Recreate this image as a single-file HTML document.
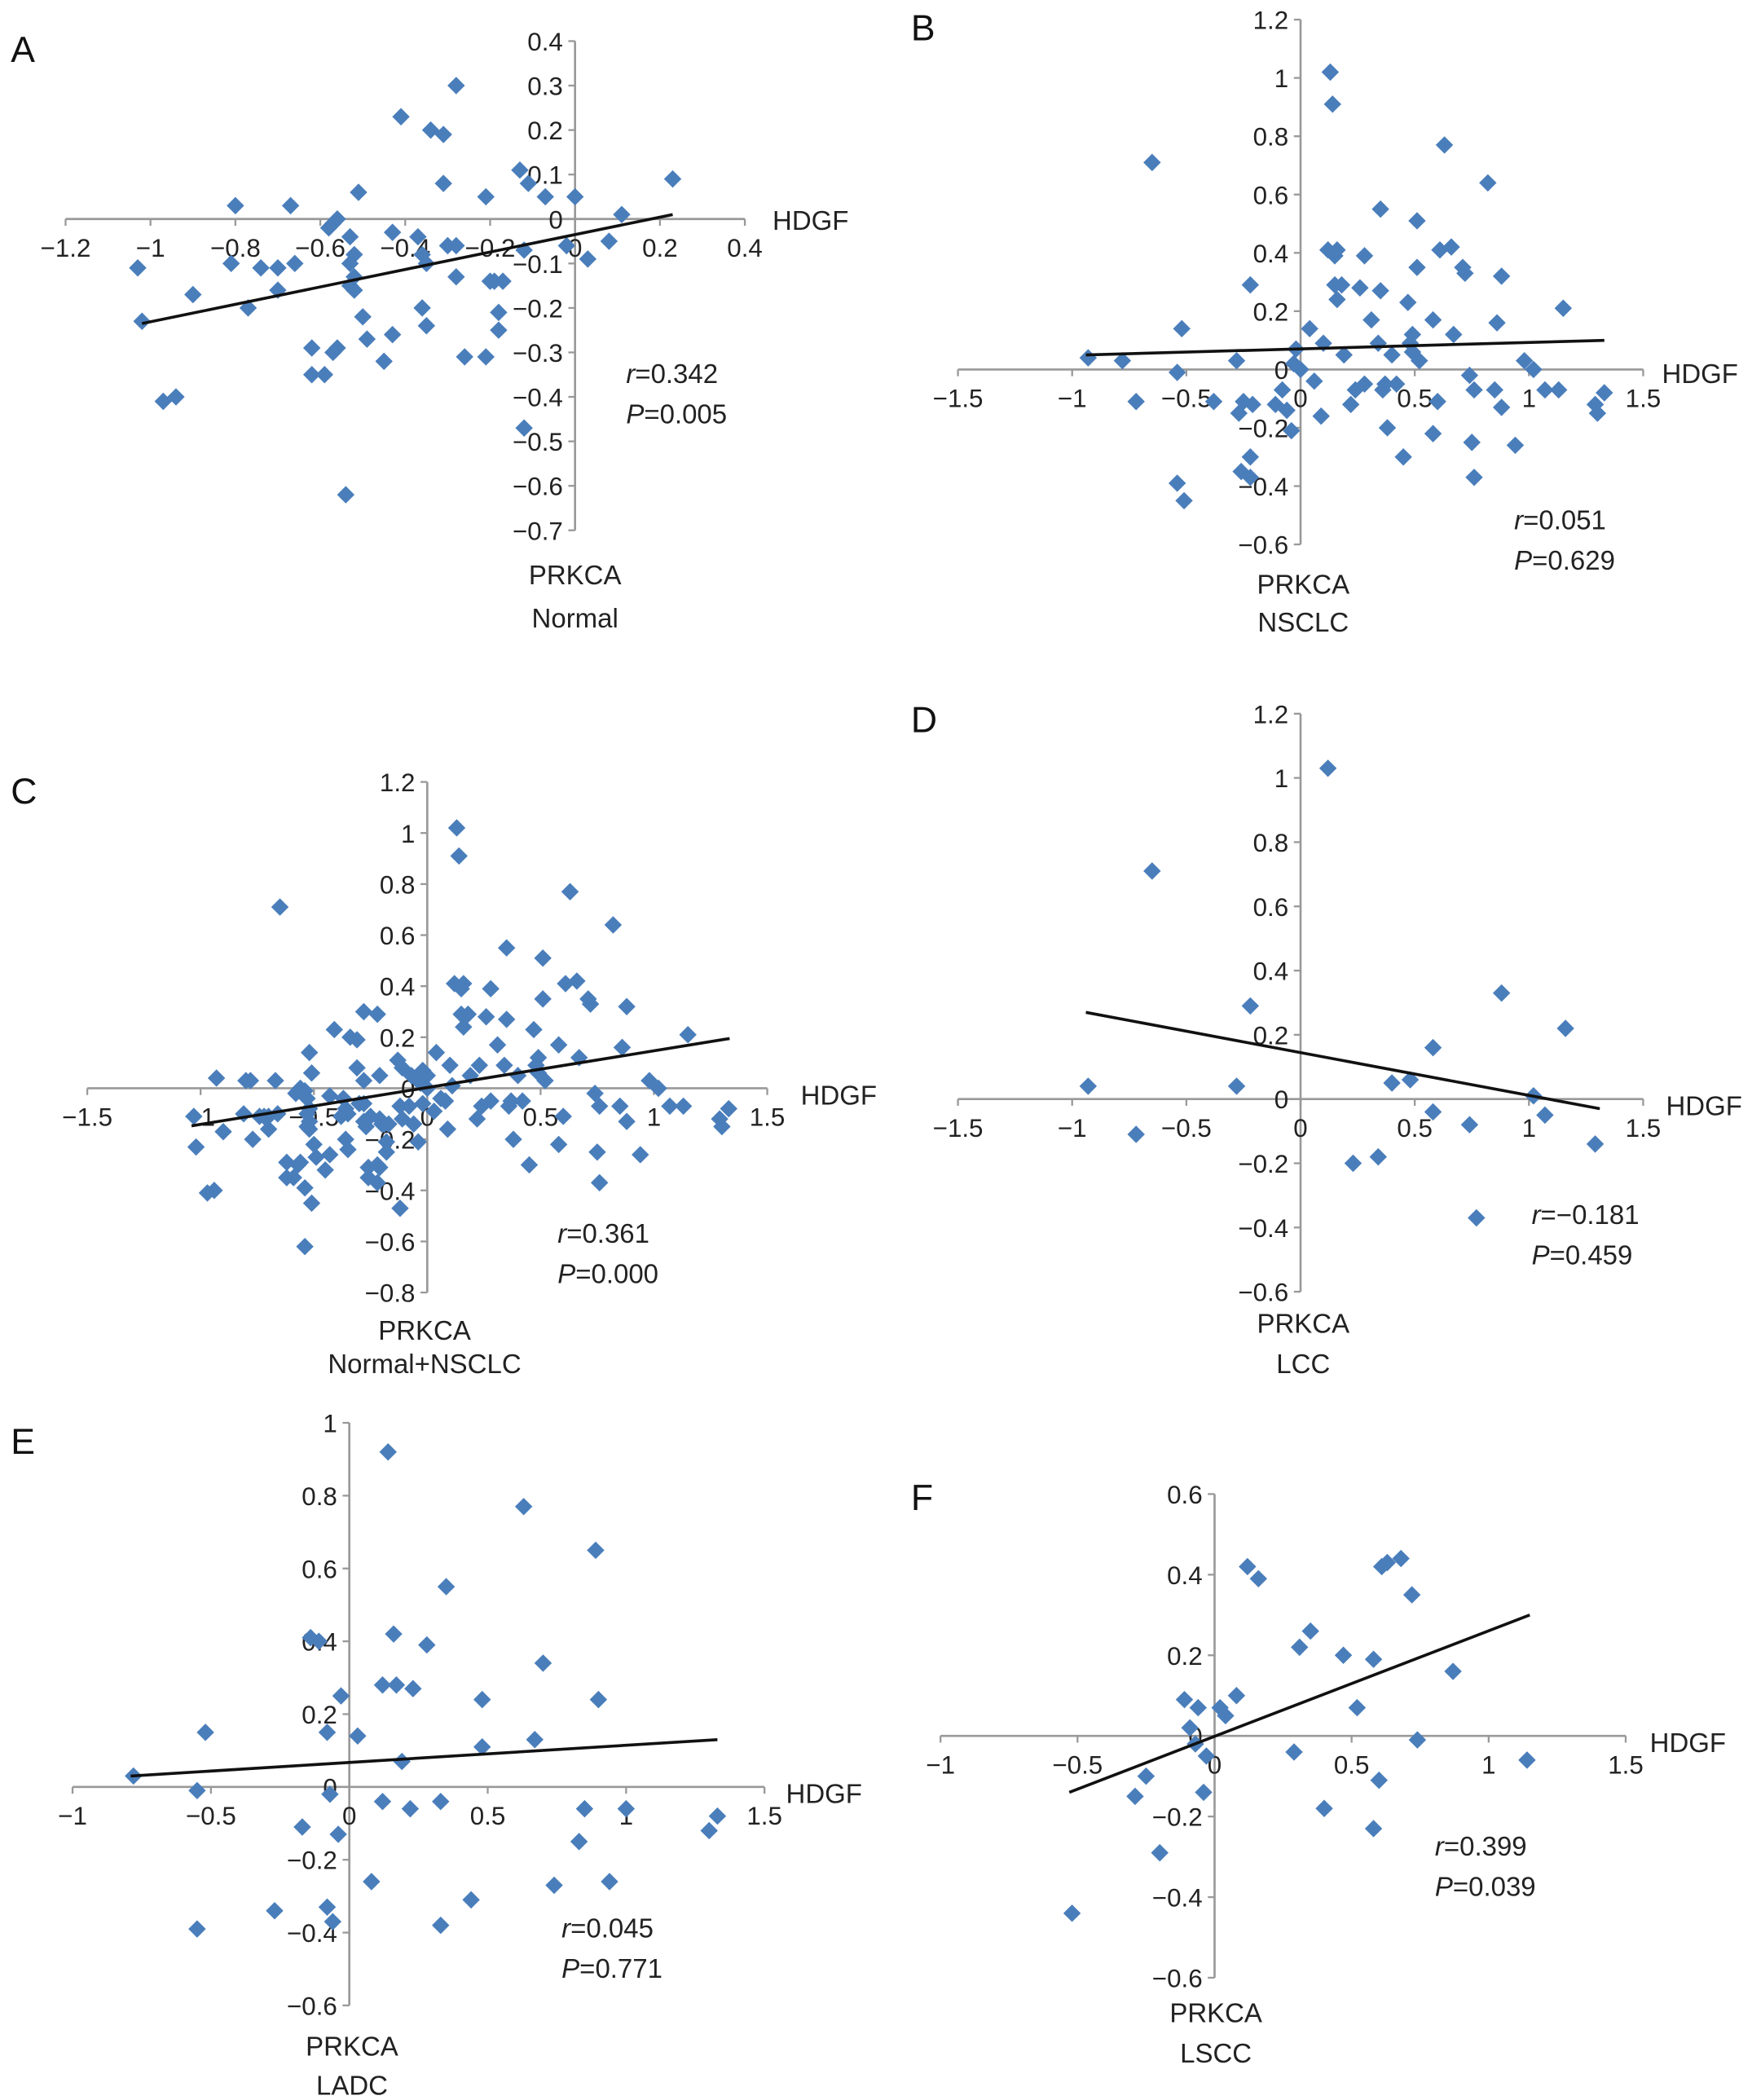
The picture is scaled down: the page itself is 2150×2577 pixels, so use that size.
<!DOCTYPE html>
<html><head><meta charset="utf-8">
<style>
html,body{margin:0;padding:0;background:#fff;}
svg{display:block;font-family:"Liberation Sans",Arial,sans-serif;}
</style></head>
<body>
<svg id="fig" width="2150" height="2577" viewBox="0 0 1304 1563" xmlns="http://www.w3.org/2000/svg"></svg>
<script>
// ---- data (x = PRKCA, y = HDGF) ----
const normalX = [-1.03,-1.02,-0.97,-0.94,-0.90,-0.80,-0.81,-0.77,-0.74,-0.70,-0.70,-0.67,-0.66,-0.62,-0.59,-0.62,-0.57,-0.56,-0.58,-0.57,-0.56,-0.53,-0.53,-0.52,-0.53,-0.52,-0.52,-0.51,-0.50,-0.49,-0.54,-0.45,-0.43,-0.43,-0.41,-0.37,-0.36,-0.35,-0.35,-0.36,-0.34,-0.31,-0.31,-0.30,-0.28,-0.28,-0.28,-0.26,-0.21,-0.21,-0.20,-0.19,-0.17,-0.18,-0.18,-0.13,-0.12,-0.11,-0.12,-0.07,-0.02,0.00,0.03,0.08,0.11,0.23];
const normalY = [-0.11,-0.23,-0.41,-0.40,-0.17,0.03,-0.10,-0.20,-0.11,-0.16,-0.11,0.03,-0.10,-0.35,-0.35,-0.29,-0.30,-0.29,-0.02,-0.01,0.00,-0.04,-0.10,-0.08,-0.15,-0.16,-0.13,0.06,-0.22,-0.27,-0.62,-0.32,-0.26,-0.03,0.23,-0.04,-0.20,-0.24,-0.10,-0.08,0.20,0.19,0.08,-0.06,0.30,-0.06,-0.13,-0.31,-0.31,0.05,-0.14,-0.14,-0.14,-0.21,-0.25,0.11,-0.47,0.08,-0.07,0.05,-0.06,0.05,-0.09,-0.05,0.01,0.09];
const nsclcX = [-0.93,-0.78,-0.72,-0.65,-0.54,-0.52,-0.54,-0.51,-0.38,-0.27,-0.22,-0.28,-0.25,-0.26,-0.22,-0.22,-0.21,-0.11,-0.08,-0.06,-0.04,-0.03,-0.02,0.00,0.04,0.06,0.09,0.10,0.12,0.13,0.14,0.15,0.16,0.15,0.16,0.18,0.19,0.22,0.24,0.26,0.28,0.28,0.31,0.34,0.35,0.35,0.36,0.37,0.38,0.40,0.42,0.45,0.47,0.48,0.49,0.51,0.51,0.49,0.52,0.58,0.58,0.60,0.61,0.63,0.66,0.67,0.71,0.72,0.74,0.75,0.76,0.76,0.82,0.85,0.86,0.88,0.88,0.94,0.98,1.02,1.07,1.13,1.15,1.29,1.30,1.33];
const nsclcY = [0.04,0.03,-0.11,0.71,-0.01,0.14,-0.39,-0.45,-0.11,-0.15,0.29,0.03,-0.11,-0.35,-0.30,-0.37,-0.12,-0.12,-0.07,-0.14,-0.21,0.02,0.07,0.00,0.14,-0.04,-0.16,0.09,0.41,1.02,0.91,0.29,0.24,0.39,0.41,0.29,0.05,-0.12,-0.07,0.28,-0.05,0.39,0.17,0.09,0.27,0.55,-0.07,-0.05,-0.20,0.05,-0.05,-0.30,0.23,0.09,0.06,0.51,0.35,0.12,0.03,-0.22,0.17,-0.11,0.41,0.77,0.42,0.12,0.35,0.33,-0.02,-0.25,-0.07,-0.37,0.64,-0.07,0.16,-0.13,0.32,-0.26,0.03,0.00,-0.07,-0.07,0.21,-0.12,-0.15,-0.08];
const lccX = [-0.93,-0.72,-0.65,-0.28,-0.22,0.12,0.23,0.34,0.40,0.48,0.58,0.58,0.74,0.77,0.88,1.02,1.07,1.16,1.29];
const lccY = [0.04,-0.11,0.71,0.04,0.29,1.03,-0.20,-0.18,0.05,0.06,0.16,-0.04,-0.08,-0.37,0.33,0.01,-0.05,0.22,-0.14];
const ladcX = [-0.78,-0.55,-0.52,-0.55,-0.27,-0.17,-0.14,-0.11,-0.08,-0.08,-0.06,-0.04,-0.03,-0.07,0.03,0.08,0.12,0.12,0.14,0.16,0.17,0.19,0.22,0.23,0.28,0.33,0.33,0.35,0.48,0.48,0.44,0.63,0.67,0.70,0.74,0.83,0.85,0.89,0.90,0.94,1.00,1.30,1.33];
const ladcY = [0.03,-0.01,0.15,-0.39,-0.34,-0.11,0.41,0.40,0.15,-0.33,-0.37,-0.13,0.25,-0.02,0.14,-0.26,-0.04,0.28,0.92,0.42,0.28,0.07,-0.06,0.27,0.39,-0.38,-0.04,0.55,0.24,0.11,-0.31,0.77,0.13,0.34,-0.27,-0.15,-0.06,0.65,0.24,-0.26,-0.06,-0.12,-0.08];
const lsccX = [-0.52,-0.29,-0.25,-0.20,-0.11,-0.09,-0.07,-0.06,-0.04,-0.03,0.02,0.04,0.08,0.12,0.16,0.29,0.31,0.35,0.40,0.47,0.52,0.58,0.58,0.60,0.61,0.63,0.68,0.72,0.74,0.87,1.14];
const lsccY = [-0.44,-0.15,-0.10,-0.29,0.09,0.02,-0.02,0.07,-0.14,-0.05,0.07,0.05,0.10,0.42,0.39,-0.04,0.22,0.26,-0.18,0.20,0.07,0.19,-0.23,-0.11,0.42,0.43,0.44,0.35,-0.01,0.16,-0.06];
// trend line endpoints [x1,y1,x2,y2]
const lineA = [-1.02,-0.235,0.23,0.01];
const lineB = [-0.94,0.05,1.33,0.10];
const lineC = [-1.04,-0.147,1.334,0.195];
const lineD = [-0.94,0.27,1.31,-0.03];
const lineE = [-0.79,0.03,1.33,0.13];
const lineF = [-0.53,-0.14,1.15,0.30];
// tick labels
const ticksXA = [-1.2,-1,-0.8,-0.6,-0.4,-0.2,0,0.2,0.4];
const ticksYA = [0.4,0.3,0.2,0.1,0,-0.1,-0.2,-0.3,-0.4,-0.5,-0.6,-0.7];
const ticksX15 = [-1.5,-1,-0.5,0,0.5,1,1.5];
const ticksYB = [1.2,1,0.8,0.6,0.4,0.2,0,-0.2,-0.4,-0.6];
const ticksYC = [1.2,1,0.8,0.6,0.4,0.2,0,-0.2,-0.4,-0.6,-0.8];
const ticksXE = [-1,-0.5,0,0.5,1,1.5];
const ticksYE = [1,0.8,0.6,0.4,0.2,0,-0.2,-0.4,-0.6];
const ticksYF = [0.6,0.4,0.2,0,-0.2,-0.4,-0.6];

const NS = 'http://www.w3.org/2000/svg';
const svg = document.getElementById('fig');
function mk(tag, attrs, parent){const e=document.createElementNS(NS,tag);for(const k in attrs)e.setAttribute(k,attrs[k]);(parent||svg).appendChild(e);return e;}
function fmt(v){return v<0?'\u2212'+String(-v):String(v);}

const panels = [
 {id:'a',letter:'A',lx:8,ly:46,ox:428,oy:163,sx:316,sy:331,xs:normalX,ys:normalY,ln:lineA,tx:ticksXA,ty:ticksYA,hx:575,hy:171,px:428,py:435,sub:'Normal',sy2:467,rx:466,ry:285,r:'0.342',p:'0.005'},
 {id:'b',letter:'B',lx:678,ly:30,ox:968,oy:275,sx:170,sy:217,xs:nsclcX,ys:nsclcY,ln:lineB,tx:ticksX15,ty:ticksYB,hx:1237,hy:285,px:970,py:442,sub:'NSCLC',sy2:470,rx:1127,ry:394,r:'0.051',p:'0.629'},
 {id:'c',letter:'C',lx:8,ly:598,ox:318,oy:810,sx:168.7,sy:190,xs:normalX.concat(nsclcX),ys:normalY.concat(nsclcY),ln:lineC,tx:ticksX15,ty:ticksYC,hx:596,hy:822,px:316,py:997,sub:'Normal+NSCLC',sy2:1022,rx:415,ry:925,r:'0.361',p:'0.000'},
 {id:'d',letter:'D',lx:678,ly:545,ox:968,oy:818,sx:170,sy:239,xs:lccX,ys:lccY,ln:lineD,tx:ticksX15,ty:ticksYB,hx:1240,hy:830,px:970,py:992,sub:'LCC',sy2:1022,rx:1140,ry:911,r:'\u22120.181',p:'0.459'},
 {id:'e',letter:'E',lx:8,ly:1082,ox:260,oy:1330,sx:206,sy:271,xs:ladcX,ys:ladcY,ln:lineE,tx:ticksXE,ty:ticksYE,hx:585,hy:1342,px:262,py:1530,sub:'LADC',sy2:1559,rx:418,ry:1442,r:'0.045',p:'0.771'},
 {id:'f',letter:'F',lx:678,ly:1124,ox:904,oy:1292,sx:204,sy:300,xs:lsccX,ys:lsccY,ln:lineF,tx:ticksXE,ty:ticksYF,hx:1228,hy:1304,px:905,py:1505,sub:'LSCC',sy2:1535,rx:1068,ry:1381,r:'0.399',p:'0.039'}
];

panels.forEach(P=>{
  const X=v=>P.ox+v*P.sx, Y=v=>P.oy-v*P.sy;
  const g=mk('g',{});
  
  
  const L=mk('text',{x:P.lx,y:P.ly,'font-size':27,fill:'#111'},g);L.textContent=P.letter;
  
  
  // axes
  const xmin=P.tx[0],xmax=P.tx[P.tx.length-1];
  const ymax=P.ty[0],ymin=P.ty[P.ty.length-1];
  const xa=mk('line',{x1:X(xmin),y1:P.oy,x2:X(xmax),y2:P.oy,stroke:'#999','stroke-width':1.6},g);
  
  
  const ya=mk('line',{x1:P.ox,y1:Y(ymax),x2:P.ox,y2:Y(ymin),stroke:'#999','stroke-width':1.6},g);
  
  
  P.tx.forEach(v=>{
    mk('line',{x1:X(v),y1:P.oy,x2:X(v),y2:P.oy+5,stroke:'#999','stroke-width':1.4},g);
    const t=mk('text',{x:X(v),y:P.oy+28,'font-size':19,'text-anchor':'middle',fill:'#222'},g);
    t.textContent=fmt(v);
    
    
  });
  P.ty.forEach(v=>{
    mk('line',{x1:P.ox-5,y1:Y(v),x2:P.ox,y2:Y(v),stroke:'#999','stroke-width':1.4},g);
    const t=mk('text',{x:P.ox-9,y:Y(v)+7,'font-size':19,'text-anchor':'end',fill:'#222'},g);
    t.textContent=fmt(v);
    
    
  });
  // points
  P.xs.forEach((xv,i)=>{
    const cx=X(xv),cy=Y(P.ys[i]),h=6.5;
    const d=mk('polygon',{points:`${cx},${cy-h} ${cx+h},${cy} ${cx},${cy+h} ${cx-h},${cy}`,fill:'#4a7ebb'},g);
    
    
  });
  const tl=mk('line',{x1:X(P.ln[0]),y1:Y(P.ln[1]),x2:X(P.ln[2]),y2:Y(P.ln[3]),stroke:'#111','stroke-width':2.2},g);
  
  
  const hd=mk('text',{x:P.hx,y:P.hy,'font-size':20,fill:'#222'},g);hd.textContent='HDGF';
  
  
  const pr=mk('text',{x:P.px,y:P.py,'font-size':20,'text-anchor':'middle',fill:'#222'},g);pr.textContent='PRKCA';
  
  
  const sb=mk('text',{x:P.px,y:P.sy2,'font-size':20,'text-anchor':'middle',fill:'#222'},g);sb.textContent=P.sub;
  
  
  const rt=mk('text',{x:P.rx,y:P.ry,'font-size':20,fill:'#222'},g);
  rt.innerHTML='<tspan font-style="italic">r</tspan>='+P.r;
  
  
  const pt=mk('text',{x:P.rx,y:P.ry+30,'font-size':20,fill:'#222'},g);
  pt.innerHTML='<tspan font-style="italic">P</tspan>='+P.p;
  
  
});
</script>
</body></html>
